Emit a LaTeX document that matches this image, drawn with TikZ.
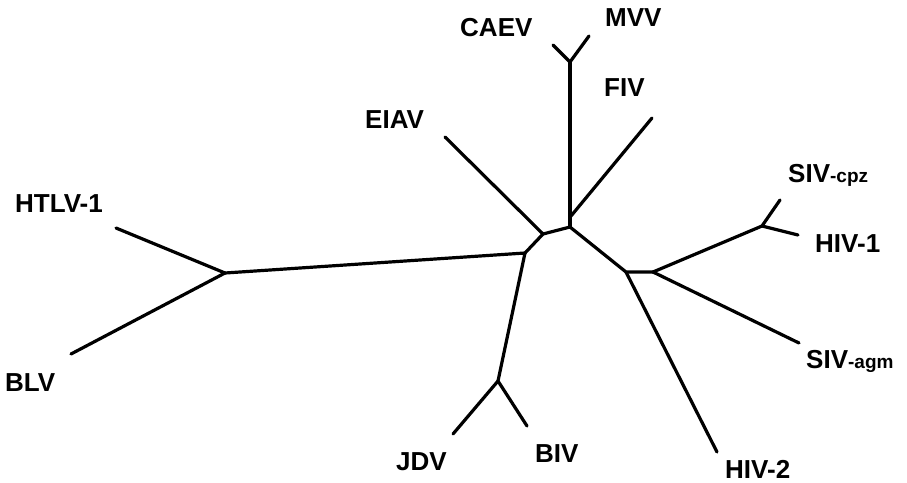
\documentclass[tikz,border=0pt]{standalone}
\usepackage{fontspec}
\setmainfont{Liberation Sans}
\usepackage{tikz}
\usetikzlibrary{positioning}

\begin{document}
\begin{tikzpicture}[x=1pt, y=-1pt]
        \tikzstyle{taxon} = [inner sep=0pt, anchor=base west, font=\fontsize{26}{30}\selectfont\bfseries]
        \tikzstyle{branch} = [line width=3.2pt, line cap=round, line join=round]
        \newcommand{\strain}[1]{{\fontsize{19}{22}\selectfont #1}}

        \useasboundingbox (0,0) rectangle (907,482);

        % inner forks of the tree
        \foreach \name/\x/\y in {htlvfork/225/273, leftjoin/525/253, eiavjoin/543/234,
            topjoin/570/227, fivjoin/571/216, ovinefork/570/62, hivjoin/626/272,
            sivjoin/653/272, primfork/762/226, bovfork/498/381}
          \coordinate (\name) at (\x,\y);

        % leaf ends
        \foreach \name/\x/\y in {htlvend/116/228, blvend/71/354, eiavend/445/137,
            caevend/553/45, mvvend/589/36, fivend/652/118, cpzend/780/200,
            hiv1end/798/235, agmend/799/343, hiv2end/717/452, jdvend/453/434, bivend/527/426}
          \coordinate (\name) at (\x,\y);

        % labels
        \node[taxon] (caev) at (460,36) {CAEV};
        \node[taxon] (mvv) at (605,26) {MVV};
        \node[taxon] (eiav) at (365,128) {EIAV};
        \node[taxon] (fiv) at (604,96) {FIV};
        \node[taxon] (htlv) at (15,212) {HTLV-1};
        \node[taxon] (blv) at (5,391) {BLV};
        \node[taxon] (jdv) at (396,470) {JDV};
        \node[taxon] (biv) at (535,462) {BIV};
        \node[taxon] (hiv2) at (725,478) {HIV-2};
        \node[taxon] (sivcpz) at (788,182) {SIV\strain{-cpz}};
        \node[taxon] (hiv1) at (815,252) {HIV-1};
        \node[taxon] (sivagm) at (806,368) {SIV\strain{-agm}};

        % branches
        \draw[branch] (htlvend) -- (htlvfork) -- (blvend);
        \draw[branch] (htlvfork) -- (leftjoin) -- (eiavjoin) -- (topjoin) -- (hivjoin) -- (sivjoin);
        \draw[branch] (eiavjoin) -- (eiavend);
        \draw[branch] (topjoin) -- (ovinefork);
        \draw[branch] (caevend) -- (ovinefork) -- (mvvend);
        \draw[branch] (fivjoin) -- (fivend);
        \draw[branch] (leftjoin) -- (bovfork);
        \draw[branch] (jdvend) -- (bovfork) -- (bivend);
        \draw[branch] (hivjoin) -- (hiv2end);
        \draw[branch] (sivjoin) -- (primfork);
        \draw[branch] (cpzend) -- (primfork) -- (hiv1end);
        \draw[branch] (sivjoin) -- (agmend);
      \end{tikzpicture}
\end{document}
